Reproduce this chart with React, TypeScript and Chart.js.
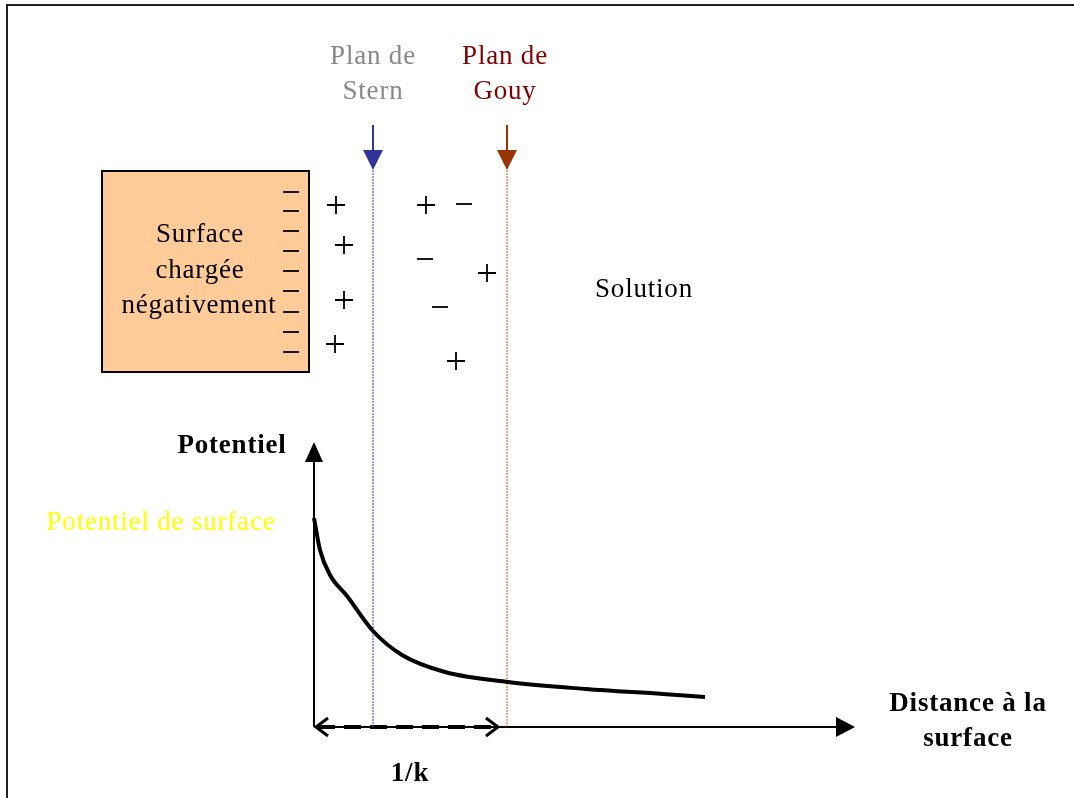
import React, { useEffect, useRef } from "react";
import { Chart, registerables } from "chart.js";

Chart.register(...registerables);

// Potential curve (layout units, y grows downward)
const curveX = [314, 320, 330, 347, 373, 402, 445, 508, 586, 663, 705];
const curveY = [518, 550, 575, 596, 631, 655, 672, 682, 689, 694, 697];

// Charges
const boxMinusX = [291, 291, 291, 291, 291, 291, 291, 291, 291];
const boxMinusY = [192, 211, 231, 251, 271, 291, 312, 332, 352];
const plusX = [336, 344, 344, 335, 426, 487, 456];
const plusY = [205, 245, 300, 344, 205, 273, 361];
const minusX = [464, 425, 440];
const minusY = [204, 259, 307];

// Planes
const sternX = 373;
const gouyX = 507;
const planeTop = 170;
const axisY = 727;
const axisX = 314;
const yAxisTop = 442;
const xAxisEnd = 855;
const debyeEnd = 500;

const xy = (xs: number[], ys: number[]) => xs.map((x, i) => ({ x, y: ys[i] }));

const SERIF = '"Liberation Serif", "DejaVu Serif", serif';

const diagramPlugin = {
  id: "diagram",
  beforeDatasetsDraw(chart: any) {
    const { ctx } = chart;
    const sx = chart.scales.x;
    const sy = chart.scales.y;
    const X = (v: number) => sx.getPixelForValue(v);
    const Y = (v: number) => sy.getPixelForValue(v);
    ctx.save();
    // frame
    ctx.strokeStyle = "#222";
    ctx.lineWidth = 2;
    ctx.beginPath();
    ctx.moveTo(X(1074), Y(5));
    ctx.lineTo(X(7), Y(5));
    ctx.lineTo(X(7), Y(798));
    ctx.stroke();
    // charged surface box
    ctx.fillStyle = "#FFCC99";
    ctx.fillRect(X(102), Y(171), X(309) - X(102), Y(372) - Y(171));
    ctx.strokeStyle = "#000";
    ctx.lineWidth = 2;
    ctx.strokeRect(X(102), Y(171), X(309) - X(102), Y(372) - Y(171));
    ctx.restore();
  },
  afterDatasetsDraw(chart: any) {
    const { ctx } = chart;
    const sx = chart.scales.x;
    const sy = chart.scales.y;
    const X = (v: number) => sx.getPixelForValue(v);
    const Y = (v: number) => sy.getPixelForValue(v);
    ctx.save();

    const tri = (tipx: number, tipy: number, dir: string, len: number, half: number, color: string) => {
      ctx.fillStyle = color;
      ctx.beginPath();
      if (dir === "down") {
        ctx.moveTo(X(tipx), Y(tipy));
        ctx.lineTo(X(tipx) - half, Y(tipy) - len);
        ctx.lineTo(X(tipx) + half, Y(tipy) - len);
      } else if (dir === "up") {
        ctx.moveTo(X(tipx), Y(tipy));
        ctx.lineTo(X(tipx) - half, Y(tipy) + len);
        ctx.lineTo(X(tipx) + half, Y(tipy) + len);
      } else {
        ctx.moveTo(X(tipx), Y(tipy));
        ctx.lineTo(X(tipx) - len, Y(tipy) - half);
        ctx.lineTo(X(tipx) - len, Y(tipy) + half);
      }
      ctx.closePath();
      ctx.fill();
    };

    // plane arrows
    const planeArrow = (x: number, color: string) => {
      ctx.strokeStyle = color;
      ctx.lineWidth = 2;
      ctx.beginPath();
      ctx.moveTo(X(x), Y(125));
      ctx.lineTo(X(x), Y(152));
      ctx.stroke();
      tri(x, planeTop, "down", 20, 10, color);
    };
    planeArrow(sternX, "#333399");
    planeArrow(gouyX, "#993300");

    // axis arrowheads
    tri(axisX, yAxisTop, "up", 20, 9, "#000");
    tri(xAxisEnd, axisY, "right", 19, 10, "#000");

    // 1/k chevrons
    ctx.strokeStyle = "#000";
    ctx.lineWidth = 3;
    ctx.lineJoin = "miter";
    ctx.beginPath();
    ctx.moveTo(X(axisX) + 14, Y(axisY) - 9);
    ctx.lineTo(X(axisX) + 2, Y(axisY));
    ctx.lineTo(X(axisX) + 14, Y(axisY) + 9);
    ctx.moveTo(X(debyeEnd) - 14, Y(axisY) - 9);
    ctx.lineTo(X(debyeEnd) - 2, Y(axisY));
    ctx.lineTo(X(debyeEnd) - 14, Y(axisY) + 9);
    ctx.stroke();

    // texts
    const text = (s: string, x: number, y: number, color: string, bold = false) => {
      ctx.font = (bold ? "bold " : "") + "27px " + SERIF;
      (ctx as any).letterSpacing = "0.8px";
      ctx.fillStyle = color;
      ctx.textAlign = "center";
      ctx.textBaseline = "middle";
      ctx.fillText(s, X(x), Y(y));
    };
    text("Plan de", 373, 57, "#888888");
    text("Stern", 373, 92, "#888888");
    text("Plan de", 505, 57, "#800000");
    text("Gouy", 505, 92, "#800000");
    text("Surface", 200, 235, "#000");
    text("chargée", 200, 271, "#000");
    text("négativement", 199, 306, "#000");
    text("Solution", 644, 290, "#000");
    text("Potentiel", 232, 446, "#000", true);
    text("Potentiel de surface", 161, 523, "#FFFF00");
    text("1/k", 410, 774, "#000", true);
    text("Distance à la", 968, 704, "#000", true);
    text("surface", 968, 739, "#000", true);
    ctx.restore();
  },
};

export default function App() {
  const ref = useRef<HTMLCanvasElement | null>(null);
  useEffect(() => {
    document.body.style.margin = "0";
    if (!ref.current) return;
    const chart = new Chart(ref.current, {
      type: "scatter",
      data: {
        datasets: [
          {
            label: "Potentiel",
            data: xy(curveX, curveY),
            showLine: true,
            borderColor: "#000",
            borderWidth: 4,
            pointRadius: 0,
            cubicInterpolationMode: "monotone",
            borderCapStyle: "butt",
            borderJoinStyle: "round",
          } as any,
          {
            label: "Plan de Stern",
            data: [{ x: sternX, y: planeTop }, { x: sternX, y: axisY }],
            showLine: true,
            borderColor: "#3a3acc",
            borderWidth: 1,
            borderDash: [2, 1],
            pointRadius: 0,
          },
          {
            label: "Plan de Gouy",
            data: [{ x: gouyX, y: planeTop }, { x: gouyX, y: axisY }],
            showLine: true,
            borderColor: "#cc5522",
            borderWidth: 1,
            borderDash: [2, 1],
            pointRadius: 0,
          },
          {
            label: "axe y",
            data: [{ x: axisX, y: axisY }, { x: axisX, y: yAxisTop + 15 }],
            showLine: true,
            borderColor: "#000",
            borderWidth: 2,
            pointRadius: 0,
          },
          {
            label: "axe x",
            data: [{ x: axisX, y: axisY }, { x: xAxisEnd - 15, y: axisY }],
            showLine: true,
            borderColor: "#000",
            borderWidth: 2,
            pointRadius: 0,
          },
          {
            label: "1/k",
            data: [{ x: axisX + 4, y: axisY }, { x: debyeEnd - 4, y: axisY }],
            showLine: true,
            borderColor: "#000",
            borderWidth: 4,
            borderDash: [17, 9],
            pointRadius: 0,
          },
          {
            label: "surface -",
            data: xy(boxMinusX, boxMinusY),
            pointStyle: "line",
            pointRadius: 8,
            borderColor: "#000",
            borderWidth: 1.8,
            backgroundColor: "#000",
          },
          {
            label: "+",
            data: xy(plusX, plusY),
            pointStyle: "cross",
            pointRadius: 9,
            borderColor: "#000",
            borderWidth: 1.8,
          },
          {
            label: "-",
            data: xy(minusX, minusY),
            pointStyle: "line",
            pointRadius: 8,
            borderColor: "#000",
            borderWidth: 1.8,
          },
        ],
      },
      options: {
        animation: false,
        responsive: false,
        events: [],
        layout: { padding: 0, autoPadding: false },
        plugins: { legend: { display: false }, tooltip: { enabled: false } },
        scales: {
          x: { type: "linear", min: 0, max: 1074, display: false },
          y: { type: "linear", min: 0, max: 798, reverse: true, display: false },
        },
      },
      plugins: [diagramPlugin],
    });
    return () => chart.destroy();
  }, []);
  return <canvas ref={ref} width={1074} height={798} style={{ display: "block" }} />;
}
